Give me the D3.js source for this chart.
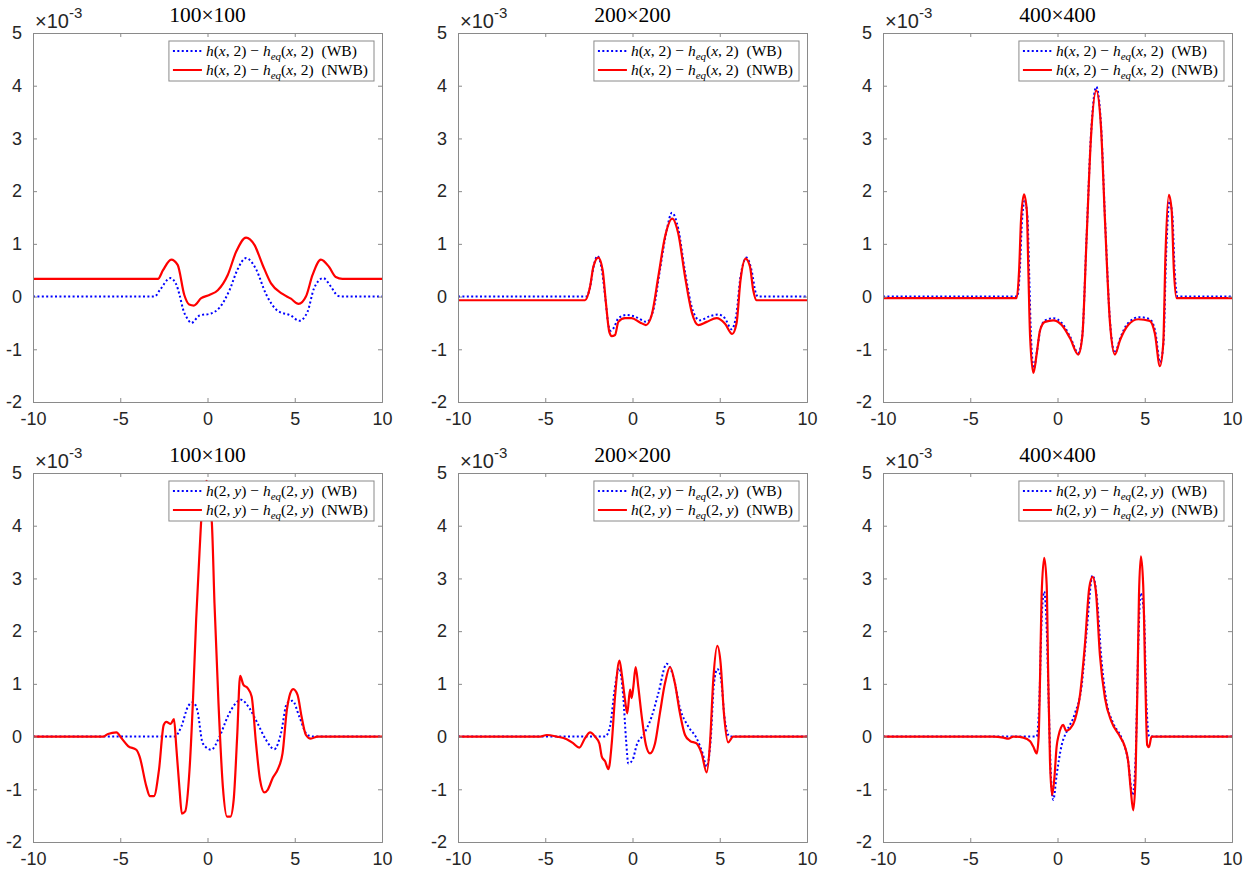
<!DOCTYPE html>
<html>
<head>
<meta charset="utf-8">
<script src="https://cdn.jsdelivr.net/npm/d3@7"></script>
<style>
  body { margin: 0; background: #fff; }
  text { white-space: pre; }
</style>
</head>
<body>
<svg id="fig" width="1260" height="874"></svg>
<script>
// Axis ticks and panel titles
const xTicks = [-10, -5, 0, 5, 10];
const yTicks = [-2, -1, 0, 1, 2, 3, 4, 5];
const gridTitles = ["100×100", "200×200", "400×400"];

// Cross-section along y = 2 : [x, value ×1e-3]
const wbX100 = [[-10,0],[-3.03,0],[-2.74,0.12],[-2.13,0.35],[-1.79,0.23],[-1.6,0.03],[-1.41,-0.23],[-1.15,-0.42],[-0.93,-0.50],[-0.46,-0.36],[0.21,-0.32],[0.69,-0.21],[1.26,0.12],[1.73,0.52],[2.21,0.73],[2.78,0.52],[3.35,0.05],[4.02,-0.27],[4.78,-0.36],[5.26,-0.46],[5.73,-0.29],[6.11,0.16],[6.63,0.35],[7.07,0.19],[7.45,0.02],[7.7,0],[10,0]];
const nwbX100 = [[-10,0.335],[-2.84,0.335],[-2.55,0.50],[-2.08,0.70],[-1.71,0.60],[-1.33,0.03],[-1.05,-0.15],[-0.78,-0.17],[-0.36,-0.03],[0.11,0.03],[0.59,0.12],[1.16,0.41],[1.64,0.85],[2.21,1.12],[2.69,0.98],[3.16,0.60],[3.64,0.25],[4.30,0.05],[4.78,-0.04],[5.22,-0.14],[5.64,0.0],[6.02,0.41],[6.50,0.70],[6.97,0.56],[7.35,0.37],[7.73,0.335],[10,0.335]];

const wbX200 = [[-10,0],[-2.66,0],[-2.45,0.15],[-2.24,0.55],[-2.01,0.77],[-1.78,0.55],[-1.55,-0.05],[-1.40,-0.50],[-1.25,-0.65],[-1.05,-0.58],[-0.81,-0.41],[-0.33,-0.35],[0.14,-0.38],[0.81,-0.48],[1.19,-0.26],[1.57,0.50],[1.96,1.26],[2.26,1.59],[2.62,1.29],[3.01,0.47],[3.45,-0.26],[3.86,-0.45],[4.44,-0.37],[4.91,-0.34],[5.29,-0.41],[5.68,-0.62],[5.96,-0.32],[6.19,0.38],[6.54,0.74],[6.82,0.50],[7.07,0.06],[7.2,0],[10,0]];
const nwbX200 = [[-10,-0.07],[-2.72,-0.07],[-2.43,0.19],[-2.24,0.57],[-1.96,0.74],[-1.71,0.50],[-1.52,-0.13],[-1.33,-0.67],[-1.19,-0.75],[-1.0,-0.73],[-0.81,-0.48],[-0.43,-0.41],[-0.05,-0.41],[0.43,-0.49],[0.77,-0.54],[1.10,-0.35],[1.48,0.38],[1.86,1.13],[2.28,1.48],[2.62,1.20],[3.01,0.38],[3.39,-0.29],[3.77,-0.54],[4.25,-0.48],[4.82,-0.41],[5.29,-0.51],[5.71,-0.71],[5.96,-0.51],[6.19,0.31],[6.48,0.72],[6.73,0.57],[6.92,0.12],[7.11,-0.07],[10,-0.07]];

const wbX400 = [[-10,0],[-2.30,0],[-2.16,0.50],[-2.04,1.40],[-1.88,1.82],[-1.72,1.50],[-1.62,0.40],[-1.52,-0.75],[-1.36,-1.36],[-1.17,-1.02],[-0.98,-0.62],[-0.70,-0.45],[-0.24,-0.41],[0.24,-0.50],[0.72,-0.76],[1.19,-1.07],[1.42,-0.74],[1.67,1.16],[1.92,3.08],[2.22,3.98],[2.49,3.28],[2.72,1.50],[3.01,-0.47],[3.29,-1.07],[3.58,-0.80],[4.05,-0.50],[4.70,-0.39],[5.29,-0.43],[5.60,-0.66],[5.88,-1.25],[6.08,-0.85],[6.22,0.75],[6.42,1.80],[6.58,1.55],[6.72,0.45],[6.88,0],[10,0]];
const nwbX400 = [[-10,-0.03],[-2.34,-0.03],[-2.20,0.50],[-2.09,1.45],[-1.92,1.94],[-1.76,1.64],[-1.67,0.50],[-1.57,-0.76],[-1.38,-1.45],[-1.19,-1.08],[-1.0,-0.64],[-0.72,-0.48],[-0.24,-0.45],[0.24,-0.54],[0.72,-0.79],[1.19,-1.10],[1.42,-0.76],[1.67,1.13],[1.92,3.03],[2.22,3.91],[2.49,3.22],[2.72,1.45],[3.01,-0.51],[3.29,-1.10],[3.58,-0.83],[4.05,-0.54],[4.63,-0.43],[5.29,-0.46],[5.58,-0.70],[5.87,-1.32],[6.06,-0.89],[6.19,0.82],[6.38,1.93],[6.54,1.64],[6.67,0.50],[6.82,-0.03],[10,-0.03]];

// Cross-section along x = 2 : [y, value ×1e-3]
const wbY100 = [[-10,0],[-1.89,0],[-1.50,0.19],[-1.12,0.57],[-0.84,0.65],[-0.59,0.51],[-0.27,-0.13],[0.21,-0.25],[0.69,0],[1.16,0.38],[1.54,0.60],[1.92,0.70],[2.40,0.54],[2.87,0.25],[3.35,-0.06],[3.83,-0.24],[4.21,0.06],[4.55,0.63],[4.87,0.68],[5.26,0.38],[5.73,0.03],[6.11,0],[10,0]];
const nwbY100 = [[-10,0],[-5.98,0],[-5.70,0.05],[-5.22,0.08],[-4.93,-0.03],[-4.55,-0.18],[-4.08,-0.25],[-3.89,-0.38],[-3.50,-0.95],[-3.31,-1.13],[-3.07,-1.13],[-2.78,-0.63],[-2.51,0.22],[-2.36,0.28],[-2.11,0.24],[-1.92,0.33],[-1.79,-0.19],[-1.60,-1.01],[-1.47,-1.46],[-1.28,-1.42],[-1.03,-0.63],[-0.84,0.63],[-0.65,2.22],[-0.46,3.48],[-0.30,4.40],[-0.05,4.85],[0.25,4.05],[0.40,2.53],[0.63,0.63],[0.88,-0.95],[1.12,-1.52],[1.31,-1.52],[1.50,-1.20],[1.70,0],[1.87,1.15],[2.06,0.98],[2.30,0.92],[2.53,0.76],[2.78,-0.13],[3.01,-0.82],[3.26,-1.06],[3.45,-1.01],[3.73,-0.79],[4.06,-0.60],[4.30,-0.32],[4.55,0.51],[4.69,0.76],[4.91,0.90],[5.16,0.79],[5.39,0.38],[5.64,0.03],[5.92,-0.04],[6.30,0],[10,0]];

const wbY200 = [[-10,0],[-1.57,0],[-1.29,0.19],[-1.0,0.95],[-0.77,1.30],[-0.53,0.76],[-0.37,-0.06],[-0.24,-0.51],[0.01,-0.44],[0.24,-0.16],[0.62,0.03],[1.10,0.38],[1.48,0.82],[1.96,1.38],[2.34,1.14],[2.72,0.54],[3.20,0.19],[3.67,-0.03],[4.02,-0.32],[4.25,-0.57],[4.48,-0.06],[4.67,1.01],[4.86,1.28],[5.05,1.14],[5.29,0.32],[5.57,0],[10,0]];
const nwbY200 = [[-10,0],[-5.29,0],[-4.91,0.03],[-4.34,0],[-3.77,-0.05],[-3.39,-0.13],[-3.05,-0.21],[-2.72,-0.03],[-2.43,0.08],[-2.15,0],[-1.90,-0.13],[-1.76,-0.38],[-1.57,-0.47],[-1.38,-0.62],[-1.19,-0.13],[-1.0,0.76],[-0.75,1.44],[-0.62,1.20],[-0.43,0.70],[-0.30,0.44],[-0.14,0.89],[-0.05,0.73],[0.05,0.95],[0.18,1.32],[0.33,0.95],[0.53,0.38],[0.77,-0.16],[1.0,-0.32],[1.29,-0.13],[1.57,0.44],[1.86,1.01],[2.15,1.32],[2.43,1.01],[2.72,0.44],[3.01,0.03],[3.29,-0.08],[3.67,-0.13],[3.96,-0.32],[4.25,-0.68],[4.44,-0.13],[4.63,1.08],[4.86,1.72],[5.05,1.39],[5.24,0.44],[5.48,-0.11],[5.77,0],[10,0]];

const wbY400 = [[-10,0],[-1.19,0],[-1.05,0.60],[-0.89,2.37],[-0.76,2.75],[-0.62,2.06],[-0.49,0.47],[-0.37,-0.79],[-0.24,-1.20],[-0.05,-0.73],[0.24,-0.16],[0.53,0.10],[1.00,0.44],[1.39,0.98],[1.67,1.99],[2.01,3.06],[2.24,2.69],[2.53,1.42],[2.81,0.66],[3.20,0.25],[3.67,-0.03],[4.05,-0.47],[4.30,-1.11],[4.47,-0.47],[4.63,1.74],[4.76,2.72],[4.95,2.37],[5.10,0.60],[5.26,0],[10,0]];
const nwbY400 = [[-10,0],[-3.67,0],[-3.10,-0.02],[-2.82,-0.04],[-2.53,0],[-1.96,-0.02],[-1.57,-0.09],[-1.39,-0.19],[-1.19,-0.32],[-1.08,0],[-1.0,1.11],[-0.91,2.69],[-0.76,3.39],[-0.62,2.88],[-0.53,1.11],[-0.43,-0.47],[-0.31,-1.11],[-0.18,-0.79],[-0.05,-0.19],[0.07,0.03],[0.20,0.17],[0.33,0.22],[0.49,0.11],[0.72,0.15],[1.00,0.32],[1.29,0.79],[1.57,1.74],[1.82,2.82],[2.01,3.03],[2.20,2.75],[2.43,1.55],[2.72,0.73],[3.10,0.28],[3.58,0],[3.86,-0.19],[4.05,-0.47],[4.19,-0.98],[4.34,-1.40],[4.47,-0.79],[4.59,1.11],[4.67,2.69],[4.78,3.42],[4.91,2.88],[5.03,1.11],[5.14,-0.16],[5.24,-0.20],[5.39,0],[10,0]];

const colLeft = [33, 458, 883];
const rowTop = [33, 473];
const plotW = 349, plotH = 369;

const panels = [
  { row: 0, col: 0, wb: wbX100, nwb: nwbX100, cut: "x" },
  { row: 0, col: 1, wb: wbX200, nwb: nwbX200, cut: "x" },
  { row: 0, col: 2, wb: wbX400, nwb: nwbX400, cut: "x" },
  { row: 1, col: 0, wb: wbY100, nwb: nwbY100, cut: "y" },
  { row: 1, col: 1, wb: wbY200, nwb: nwbY200, cut: "y" },
  { row: 1, col: 2, wb: wbY400, nwb: nwbY400, cut: "y" }
];

const axisColor = "#8a8a8a";
const labelColor = "#262626";
const sansFont = "'Liberation Sans', Arial, Helvetica, sans-serif";
const serifFont = "'Liberation Serif', 'Times New Roman', serif";

const svg = d3.select("#fig");

// Legend label pieces: [text, style]; style "i" italic, "sub" subscript
function legendParts(cut, tag) {
  if (cut === "x") {
    return [["h","i"],["(",""],["x","i"],[", 2) − ",""],["h","i"],["eq","sub"],["(",""],["x","i"],[", 2)  (" + tag + ")",""]];
  }
  return [["h","i"],["(2, ",""],["y","i"],[") − ",""],["h","i"],["eq","sub"],["(2, ",""],["y","i"],[")  (" + tag + ")",""]];
}

panels.forEach((p, idx) => {
  const x0 = colLeft[p.col], y0 = rowTop[p.row];
  const g = svg.append("g").attr("transform", `translate(${x0},${y0})`);

  const x = d3.scaleLinear().domain([-10, 10]).range([0, plotW]);
  const y = d3.scaleLinear().domain([-2, 5]).range([plotH, 0]);

  const clipId = "clip" + idx;
  g.append("clipPath").attr("id", clipId)
    .append("rect").attr("width", plotW).attr("height", plotH);

  // Curves
  const line = d3.line().x(d => x(d[0])).y(d => y(d[1])).curve(d3.curveMonotoneX);
  const plot = g.append("g").attr("clip-path", `url(#${clipId})`);
  plot.append("path").datum(p.wb).attr("d", line)
    .attr("fill", "none").attr("stroke", "#0000ff").attr("stroke-width", 2)
    .attr("stroke-dasharray", "2,2.4");
  plot.append("path").datum(p.nwb).attr("d", line)
    .attr("fill", "none").attr("stroke", "#ff0000").attr("stroke-width", 2.2)
    .attr("stroke-linejoin", "round");

  // Axes: inward ticks on all four sides, box frame
  const tickLen = 4;
  const axB = g.append("g").attr("transform", `translate(0,${plotH})`)
    .call(d3.axisBottom(x).tickValues(xTicks).tickSize(-tickLen).tickPadding(10).tickFormat(d3.format("d")));
  const axT = g.append("g")
    .call(d3.axisTop(x).tickValues(xTicks).tickSize(-tickLen).tickFormat(""));
  const axL = g.append("g")
    .call(d3.axisLeft(y).tickValues(yTicks).tickSize(-tickLen).tickPadding(11).tickFormat(d3.format("d")));
  const axR = g.append("g").attr("transform", `translate(${plotW},0)`)
    .call(d3.axisRight(y).tickValues(yTicks).tickSize(-tickLen).tickFormat(""));
  [axB, axT, axL, axR].forEach(a => {
    a.select(".domain").attr("stroke", axisColor).attr("stroke-width", 1);
    a.selectAll(".tick line").attr("stroke", axisColor);
    a.selectAll(".tick text").attr("fill", labelColor)
      .style("font-family", sansFont).style("font-size", "18px");
  });
  // plain hyphen for negative tick labels
  axB.selectAll(".tick text").text(d => String(d)).attr("dy", "0.71em");
  axL.selectAll(".tick text").text(d => String(d));

  // Exponent label
  const ex = g.append("text").attr("x", 2).attr("y", -5)
    .attr("fill", labelColor).style("font-family", sansFont).style("font-size", "20px");
  ex.append("tspan").text("×10");
  ex.append("tspan").attr("dy", -10).style("font-size", "15px").text("-3");

  // Title
  g.append("text").attr("x", plotW / 2).attr("y", -11).attr("text-anchor", "middle")
    .attr("fill", "#000").style("font-family", serifFont).style("font-size", "21.5px")
    .text(gridTitles[p.col]);

  // Legend
  const leg = g.append("g");
  const box = leg.append("rect").attr("fill", "#fff").attr("stroke", axisColor).attr("stroke-width", 1);
  const rows = [
    { tag: "WB", color: "#0000ff", dash: "2,2.4" },
    { tag: "NWB", color: "#ff0000", dash: null }
  ];
  let maxW = 0;
  rows.forEach((r, i) => {
    const cy = 10 + i * 19;
    const ln = leg.append("line").attr("x1", 4).attr("x2", 33).attr("y1", cy).attr("y2", cy)
      .attr("stroke", r.color).attr("stroke-width", 2);
    if (r.dash) ln.attr("stroke-dasharray", r.dash);
    const t = leg.append("text").attr("x", 37).attr("y", cy + 5)
      .attr("fill", "#000").style("font-family", serifFont).style("font-size", "15.5px");
    let afterSub = false;
    legendParts(p.cut, r.tag).forEach(([s, st]) => {
      const ts = t.append("tspan").text(s);
      if (afterSub) { ts.attr("dy", -3.5); afterSub = false; }
      if (st === "i") ts.style("font-style", "italic");
      if (st === "sub") {
        ts.style("font-style", "italic").style("font-size", "11px").attr("dy", 3.5);
        afterSub = true;
      }
    });
    maxW = Math.max(maxW, t.node().getComputedTextLength());
  });
  const legW = 37 + maxW + 6, legH = 40;
  box.attr("x", 0).attr("y", 0).attr("width", legW).attr("height", legH);
  leg.attr("transform", `translate(${plotW - 8 - legW},8)`);
});
</script>
</body>
</html>
